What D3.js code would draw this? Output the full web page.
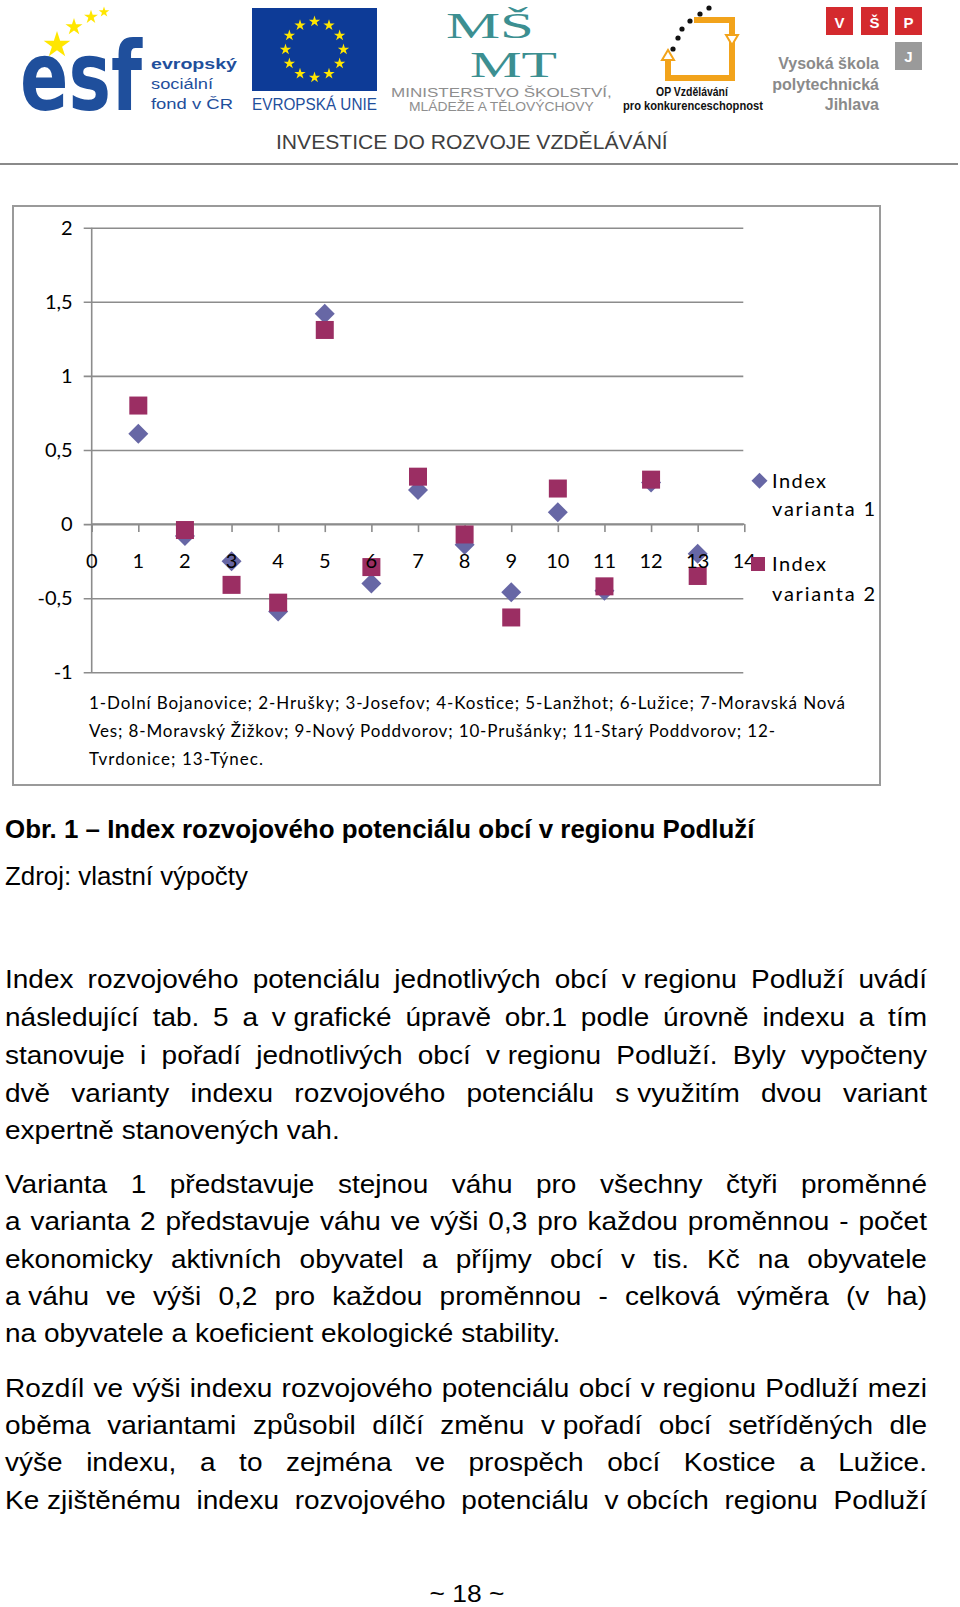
<!DOCTYPE html>
<html><head><meta charset="utf-8">
<script src="https://cdn.jsdelivr.net/npm/d3@7"></script>
<style>
html,body{margin:0;padding:0;background:#fff;}
svg{display:block;}
</style></head>
<body>
<script>
// ---------- DATA ----------
const obce = [1,2,3,4,5,6,7,8,9,10,11,12,13];
const variant1 = [0.61,-0.08,-0.25,-0.59,1.42,-0.40,0.23,-0.14,-0.46,0.08,-0.45,0.28,-0.20];
const variant2 = [0.80,-0.04,-0.41,-0.53,1.31,-0.29,0.32,-0.07,-0.63,0.24,-0.42,0.30,-0.35];
const yTicks = [-1,-0.5,0,0.5,1,1.5,2];
const xTicks = [0,1,2,3,4,5,6,7,8,9,10,11,12,13,14];
const noteLines = [
 "1-Dolní Bojanovice; 2-Hrušky; 3-Josefov; 4-Kostice; 5-Lanžhot; 6-Lužice; 7-Moravská Nová",
 "Ves; 8-Moravský Žižkov; 9-Nový Poddvorov; 10-Prušánky; 11-Starý Poddvorov; 12-",
 "Tvrdonice; 13-Týnec."
];
const caption = "Obr. 1 – Index rozvojového potenciálu obcí v regionu Podluží";
const source = "Zdroj: vlastní výpočty";
const paragraphs = [
 [["Index","rozvojového","potenciálu","jednotlivých","obcí","v regionu","Podluží","uvádí"],
  ["následující","tab.","5","a","v grafické","úpravě","obr.1","podle","úrovně","indexu","a","tím"],
  ["stanovuje","i","pořadí","jednotlivých","obcí","v regionu","Podluží.","Byly","vypočteny"],
  ["dvě","varianty","indexu","rozvojového","potenciálu","s využitím","dvou","variant"],
  ["expertně","stanovených","vah."]],
 [["Varianta","1","představuje","stejnou","váhu","pro","všechny","čtyři","proměnné"],
  ["a","varianta","2","představuje","váhu","ve","výši","0,3","pro","každou","proměnnou","-","počet"],
  ["ekonomicky","aktivních","obyvatel","a","příjmy","obcí","v","tis.","Kč","na","obyvatele"],
  ["a váhu","ve","výši","0,2","pro","každou","proměnnou","-","celková","výměra","(v","ha)"],
  ["na","obyvatele","a","koeficient","ekologické","stability."]],
 [["Rozdíl","ve","výši","indexu","rozvojového","potenciálu","obcí","v regionu","Podluží","mezi"],
  ["oběma","variantami","způsobil","dílčí","změnu","v pořadí","obcí","setříděných","dle"],
  ["výše","indexu,","a","to","zejména","ve","prospěch","obcí","Kostice","a","Lužice."],
  ["Ke zjištěnému","indexu","rozvojového","potenciálu","v obcích","regionu","Podluží"]]
];
const lastLineLeft = [true,true,false];
const paraBaselines = [[988,1026,1064,1102,1139],[1193,1230,1268,1305,1342],[1397,1434,1471,1509]];

// ---------- SVG ----------
const W=960,H=1607;
const svg=d3.select("body").append("svg").attr("width",W).attr("height",H);
svg.append("rect").attr("width",W).attr("height",H).attr("fill","#fff");

function scaledText(parent,str,x0,y0,targetW,attrs){
  const t=parent.append("text").text(str);
  Object.entries(attrs).forEach(([k,v])=>t.attr(k,v));
  const w=t.node().getComputedTextLength();
  t.attr("transform",`translate(${x0},${y0}) scale(${targetW/w},1)`);
  return t;
}

// ---------- HEADER ----------
const hdr=svg.append("g");
const esfBlue="#1f4f9c";
scaledText(hdr,"esf",20,110,122,{"font-family":"DejaVu Sans","font-weight":700,"font-size":96,"fill":esfBlue});
const starSym=d3.symbol().type(d3.symbolStar);
[[57,45,220],[74,27,90],[91,17,60],[104,12,35]].forEach(s=>{
  hdr.append("path").attr("d",starSym.size(s[2])()).attr("transform",`translate(${s[0]},${s[1]})`).attr("fill","#ffe600");
});
[["evropský",63,700,86],["sociální",83,400,62],["fond v ČR",103,400,82]].forEach(t=>{
  scaledText(hdr,t[0],151,t[1]+6,t[3],{"font-family":"Liberation Sans","font-weight":t[2],"font-size":15,"fill":esfBlue});
});
hdr.append("rect").attr("x",252).attr("y",8).attr("width",125).attr("height",83).attr("fill","#0d3b97");
d3.range(12).forEach(i=>{
  const a=i*Math.PI/6;
  hdr.append("path").attr("d",starSym.size(40)()).attr("transform",`translate(${314.5+29*Math.sin(a)},${49.5-28*Math.cos(a)})`).attr("fill","#ffe600");
});
scaledText(hdr,"EVROPSKÁ UNIE",252,110,125,{"font-family":"Liberation Sans","font-size":16,"fill":esfBlue});
const teal="#3c8f91";
scaledText(hdr,"MŠ",446,38,88,{"font-family":"Liberation Serif","font-size":35,"fill":teal});
scaledText(hdr,"MT",470,77,87,{"font-family":"Liberation Serif","font-size":35,"fill":teal});
scaledText(hdr,"MINISTERSTVO ŠKOLSTVÍ,",391,97,221,{"font-family":"Liberation Sans","font-size":13,"fill":"#8e8e8e"});
scaledText(hdr,"MLÁDEŽE A TĚLOVÝCHOVY",409,111,185,{"font-family":"Liberation Sans","font-size":12,"fill":"#8e8e8e"});
const orange="#f2a31b";
hdr.append("path").attr("d","M668,58 L668,78 L732,78 L732,20 L694,20").attr("fill","none").attr("stroke",orange).attr("stroke-width",6);
hdr.append("path").attr("d","M662,60 L668,50 L674,60 Z M726,35 L732,45 L738,35 Z").attr("fill","#fff").attr("stroke",orange).attr("stroke-width",2);
[[709,8],[700,14],[690,21],[682,29],[678,38],[673,49]].forEach(p=>{
  hdr.append("circle").attr("cx",p[0]).attr("cy",p[1]).attr("r",2.6).attr("fill","#111");
});
scaledText(hdr,"OP Vzdělávání",656,96,72,{"font-family":"Liberation Sans","font-weight":700,"font-size":12,"fill":"#111"});
scaledText(hdr,"pro konkurenceschopnost",623,110,140,{"font-family":"Liberation Sans","font-weight":700,"font-size":12,"fill":"#111"});
const red="#d42a2e";
[["V",826],["Š",861],["P",895]].forEach(b=>{
  hdr.append("rect").attr("x",b[1]).attr("y",7).attr("width",27).attr("height",28).attr("fill",red);
  hdr.append("text").attr("x",b[1]+13.5).attr("y",28).attr("text-anchor","middle").attr("font-family","Liberation Sans").attr("font-weight",700)
   .attr("font-size",15).attr("fill","#fff").text(b[0]);
});
hdr.append("rect").attr("x",895).attr("y",42).attr("width",27).attr("height",28).attr("fill","#9a9a9a");
hdr.append("text").attr("x",908.5).attr("y",62).attr("text-anchor","middle").attr("font-family","Liberation Sans").attr("font-weight",700)
   .attr("font-size",15).attr("fill","#fff").text("J");
[["Vysoká škola",69],["polytechnická",90],["Jihlava",110]].forEach(t=>{
  hdr.append("text").attr("x",879).attr("y",t[1]).attr("text-anchor","end").attr("font-family","Liberation Sans").attr("font-weight",700)
   .attr("font-size",16).attr("fill","#8a8a8a").text(t[0]);
});
scaledText(hdr,"INVESTICE DO ROZVOJE VZDĚLÁVÁNÍ",276,149,392,{"font-family":"Liberation Sans","font-size":21,"fill":"#3f3f3f"});
hdr.append("line").attr("x1",0).attr("x2",958).attr("y1",164).attr("y2",164).attr("stroke","#8a8a8a").attr("stroke-width",2);

// ---------- CHART ----------
const chartFont="Lato";
svg.append("rect").attr("x",13).attr("y",206).attr("width",867).attr("height",579)
  .attr("fill","#fff").attr("stroke","#9a9a9a").attr("stroke-width",2);

const x=d3.scaleLinear().domain([0,14]).range([91.7,744.3]);
const y=d3.scaleLinear().domain([-1,2]).range([672.3,227.7]);
const gridCol="#8c8c8c";
const plot=svg.append("g");

const yAxis=d3.axisLeft(y).tickValues(yTicks).tickSize(8).tickPadding(11)
  .tickFormat(d=>String(d).replace(".",","));
const gy=plot.append("g").attr("transform",`translate(${x(0)},0)`).call(yAxis);
gy.select(".domain").attr("stroke",gridCol).attr("stroke-width",1.6).attr("d",`M0,${y(2)}V${y(-1)}`);
gy.selectAll(".tick line").attr("stroke",gridCol).attr("stroke-width",1.6).attr("x1",-8).attr("x2",x(14)-x(0)-1);
gy.selectAll(".tick text").attr("font-family",chartFont).attr("font-size",20).attr("fill","#000");

const xAxis=d3.axisBottom(x).tickValues(xTicks).tickSize(8).tickPadding(14).tickFormat(d3.format("d"));
const gx=plot.append("g").attr("transform",`translate(0,${y(0)})`).call(xAxis);
gx.select(".domain").attr("stroke",gridCol).attr("stroke-width",1.6).attr("d",`M${x(0)},0H${x(14)}`);
gx.selectAll(".tick line").attr("stroke",gridCol).attr("stroke-width",1.6);
gx.selectAll(".tick text").remove();

const c1="#6767a5", c2="#9b2e63";
plot.append("g").selectAll("path").data(obce).join("path")
  .attr("d","M0,-10L10,0L0,10L-10,0Z")
  .attr("transform",(d,i)=>`translate(${x(d)},${y(variant1[i])})`).attr("fill",c1);
plot.append("g").selectAll("rect").data(obce).join("rect")
  .attr("x",(d)=>x(d)-9).attr("y",(d,i)=>y(variant2[i])-9).attr("width",18).attr("height",18).attr("fill",c2);

plot.append("g").selectAll("text").data(xTicks).join("text")
  .attr("x",d=>x(d)).attr("y",y(0)+44).attr("text-anchor","middle")
  .attr("font-family",chartFont).attr("font-size",20).attr("fill","#000").text(d=>d);

const lg=svg.append("g");
lg.append("path").attr("d","M0,-8L8,0L0,8L-8,0Z").attr("transform","translate(759.5,480.7)").attr("fill",c1);
lg.append("rect").attr("x",751).attr("y",557).attr("width",14).attr("height",14).attr("fill",c2);
const legendRows=[["Index",480.7,54],["varianta 1",509,103],["Index",564,54],["varianta 2",594,103]];
legendRows.forEach(r=>{
  lg.append("text").attr("x",772).attr("y",r[1]+7).attr("font-family",chartFont).attr("font-size",20).attr("fill","#000")
    .attr("textLength",r[2]).attr("lengthAdjust","spacing").text(r[0]);
});

const noteWidths=[756,686,174];
const noteBase=[709,737,765];
noteLines.forEach((t,i)=>{
  svg.append("text").attr("x",89).attr("y",noteBase[i]).attr("font-family",chartFont).attr("font-size",17).attr("fill","#000")
    .attr("textLength",noteWidths[i]).attr("lengthAdjust","spacing").text(t);
});

// ---------- CAPTION ----------
function fitText(sel,target){
  const w=sel.node().getComputedTextLength();
  const fs=parseFloat(sel.attr("font-size"));
  sel.attr("font-size",fs*target/w);
}
const cap=svg.append("text").attr("x",5).attr("y",838).attr("font-family","Liberation Sans").attr("font-weight",700)
  .attr("font-size",22).attr("fill","#000").text(caption);
fitText(cap,750);
const src=svg.append("text").attr("x",5).attr("y",885).attr("font-family","Liberation Sans")
  .attr("font-size",22).attr("fill","#000").text(source);
fitText(src,243);

// ---------- BODY TEXT (justified, slightly stretched like the scan) ----------
const bodyFont="Liberation Sans", bodySize=25, SX=1.12, X0=5, X1=927;
paragraphs.forEach((para,pi)=>{
  para.forEach((words,li)=>{
    const yb=paraBaselines[pi][li];
    const isLast=(li===para.length-1)&&lastLineLeft[pi];
    const texts=words.map(w=>svg.append("text").attr("font-family",bodyFont).attr("font-size",bodySize).attr("fill","#000").text(w));
    const widths=texts.map(t=>t.node().getComputedTextLength()*SX);
    const total=d3.sum(widths);
    const spaceW=bodySize*0.278*SX;
    const gap=(isLast||words.length<2)?spaceW:(X1-X0-total)/(words.length-1);
    let cx=X0;
    texts.forEach((t,i)=>{ t.attr("transform",`translate(${cx},${yb}) scale(${SX},1)`); cx+=widths[i]+gap; });
  });
});
svg.append("text").attr("font-family",bodyFont).attr("font-size",24).attr("fill","#000").attr("text-anchor","middle")
  .attr("transform",`translate(467,1602) scale(1.1,1)`).text("~ 18 ~");
</script>
</body></html>
